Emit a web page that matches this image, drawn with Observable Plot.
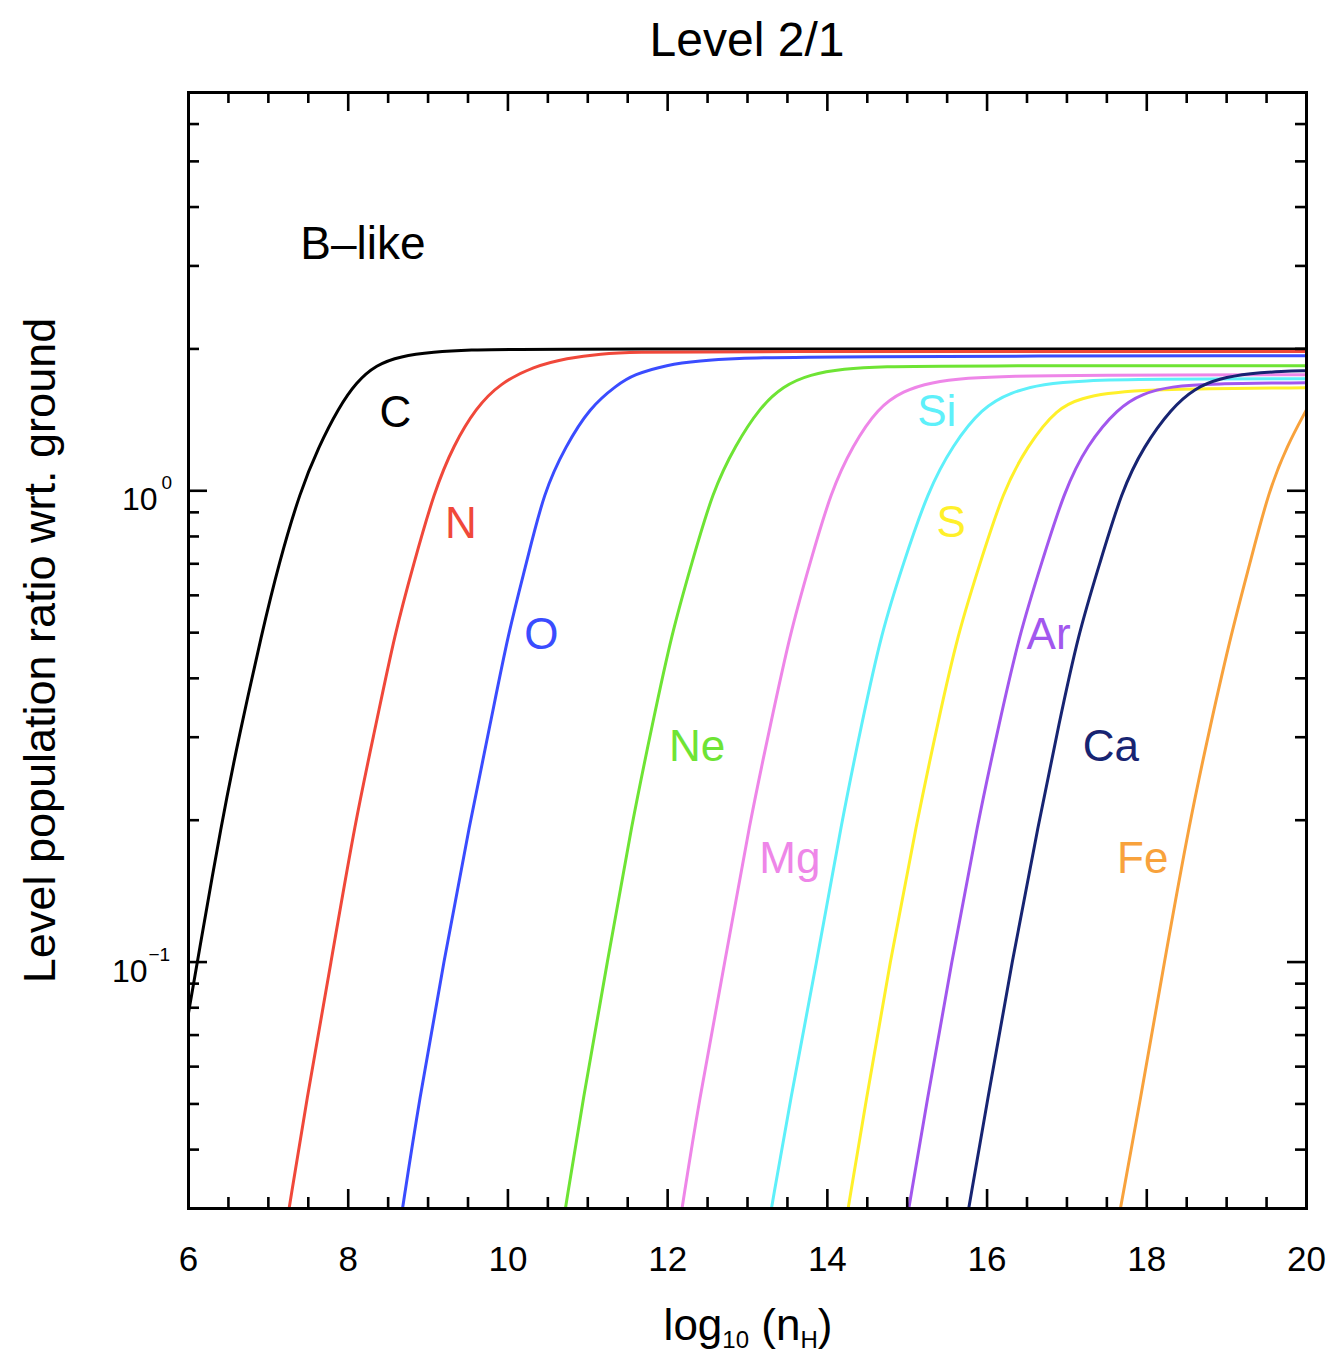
<!DOCTYPE html>
<html>
<head>
<meta charset="utf-8">
<script src="https://cdn.jsdelivr.net/npm/d3@7"></script>
<script src="https://cdn.jsdelivr.net/npm/@observablehq/plot@0.6"></script>
<style>
  html, body { margin: 0; padding: 0; background: #fff; }
  body { width: 1331px; height: 1357px; position: relative; overflow: hidden;
         font-family: "Liberation Sans", Arial, Helvetica, sans-serif; color: #000; }
  #title { position: absolute; left: 747px; top: 16px; transform: translateX(-50%);
           font-size: 48px; line-height: 1; white-space: nowrap; }
  #chart { position: absolute; left: 0; top: 80px; }
  #xtitle { position: absolute; left: 748px; top: 1303px; transform: translateX(-50%);
            font-size: 44px; line-height: 1; white-space: nowrap; }
  #xtitle sub { font-size: 24px; line-height: 0; vertical-align: -0.35em; }
</style>
</head>
<body>
<div id="title">Level 2/1</div>
<div id="chart"></div>
<div id="xtitle">log<sub>10</sub> (n<sub>H</sub>)</div>
<script>
// ---- data ----
const elements = ["C", "N", "O", "Ne", "Mg", "Si", "S", "Ar", "Ca", "Fe"];
const colors = ["#000000", "#f0483a", "#3a4cff", "#6ee434", "#ee86e8", "#5ef0fa", "#fff02a", "#a257ee", "#172472", "#f8a23c"];

const curveC  = [[6.0,0.078],[6.11,0.1],[6.42,0.2],[6.63,0.3],[6.92,0.5],[7.13,0.7],[7.40,1.0],[7.63,1.24],[7.88,1.5],[8.1,1.7],[8.35,1.85],[8.65,1.93],[9.07,1.97],[9.5,1.99],[10.2,2.0],[20,2.0]];
const curveN  = [[7.26,0.03],[7.47,0.05],[7.786,0.1],[8.09,0.2],[8.35,0.32],[8.586,0.5],[8.82,0.7],[9.08,1.0],[9.32,1.25],[9.60,1.5],[9.9,1.69],[10.32,1.836],[10.74,1.913],[11.16,1.954],[11.6,1.968],[12.5,1.975],[20,1.976]];
const curveO  = [[8.68,0.03],[8.881,0.05],[9.196,0.1],[9.529,0.2],[9.78,0.32],[10.005,0.5],[10.23,0.7],[10.454,1.0],[10.72,1.24],[11.02,1.5],[11.37,1.679],[11.57,1.763],[11.99,1.852],[12.41,1.888],[12.83,1.909],[13.66,1.928],[20,1.935]];
const curveNe = [[10.72,0.03],[10.93,0.05],[11.245,0.1],[11.559,0.2],[11.81,0.32],[12.053,0.5],[12.30,0.7],[12.565,1.0],[12.85,1.25],[13.15,1.5],[13.45,1.67],[13.78,1.765],[14.2,1.815],[14.7,1.835],[15.5,1.842],[20,1.842]];
const curveMg = [[12.18,0.03],[12.385,0.05],[12.718,0.1],[13.032,0.2],[13.29,0.32],[13.535,0.5],[13.78,0.7],[14.047,1.0],[14.32,1.25],[14.632,1.5],[14.95,1.63],[15.3,1.7],[15.75,1.735],[16.3,1.752],[17.2,1.76],[20,1.763]];
const curveSi = [[13.30,0.03],[13.526,0.05],[13.868,0.1],[14.182,0.2],[14.43,0.32],[14.676,0.5],[14.95,0.7],[15.26,1.0],[15.57,1.25],[15.934,1.5],[16.3,1.62],[16.7,1.685],[17.2,1.713],[18.0,1.725],[20,1.729]];
const curveS  = [[14.26,0.03],[14.478,0.05],[14.783,0.1],[15.125,0.2],[15.38,0.32],[15.637,0.5],[15.91,0.7],[16.203,1.0],[16.5,1.242],[16.877,1.5],[17.2,1.575],[17.5,1.61],[17.9,1.635],[18.7,1.648],[20,1.654]];
const curveAr = [[15.02,0.03],[15.241,0.05],[15.556,0.1],[15.889,0.2],[16.15,0.32],[16.41,0.5],[16.68,0.7],[16.967,1.0],[17.25,1.25],[17.64,1.5],[17.95,1.61],[18.3,1.665],[18.8,1.688],[20,1.695]];
const curveCa = [[15.77,0.03],[15.997,0.05],[16.311,0.1],[16.653,0.2],[16.90,0.32],[17.146,0.5],[17.41,0.7],[17.686,1.0],[17.96,1.242],[18.314,1.5],[18.6,1.65],[18.9,1.73],[19.3,1.776],[19.7,1.792],[20,1.798]];
const curveFe = [[17.67,0.03],[17.91,0.05],[18.22,0.1],[18.54,0.2],[18.80,0.32],[19.06,0.5],[19.29,0.7],[19.527,1.0],[19.76,1.25],[20,1.486]];
const curves = [curveC, curveN, curveO, curveNe, curveMg, curveSi, curveS, curveAr, curveCa, curveFe];

const labelX = [8.59, 9.41, 10.42, 12.37, 13.53, 15.37, 15.55, 16.77, 17.55, 17.95];
const labelY = [1.46, 0.85, 0.494, 0.286, 0.1655, 1.47, 0.855, 0.494, 0.286, 0.1655];

const xTicks = [6, 8, 10, 12, 14, 16, 18, 20];
const xMinorTicks = [6.5,7,7.5,8.5,9,9.5,10.5,11,11.5,12.5,13,13.5,14.5,15,15.5,16.5,17,17.5,18.5,19,19.5];
const yMajorTicks = [0.1, 1];
const yMinorTicks = [0.04,0.05,0.06,0.07,0.08,0.09,0.2,0.3,0.4,0.5,0.6,0.7,0.8,0.9,2,3,4,5,6];
const yTickExponents = ["\u22121", "0"];

const panelText = "B\u2013like";
const yTitle = "Level population ratio wrt. ground";

// ---- build tables ----
const labels = elements.map((el, i) => ({el, color: colors[i], x: labelX[i], y: labelY[i]}));

const W = 1331, H = 1210, mT = 12, mB = 82, mL = 188, mR = 25;
const FW = W - mL - mR, FH = H - mT - mB;
const font = "'Liberation Sans', Arial, Helvetica, sans-serif";
const majorLen = 19, minorLen = 11, tickW = 2.6;

const xMajorInner = xTicks.filter(d => d > 6 && d < 20);

const marks = [
  // curves
  ...curves.map((pts, i) => Plot.line(pts, {x: d => d[0], y: d => d[1], stroke: colors[i], strokeWidth: 3, curve: "basis", clip: true})),
  // ticks bottom / top
  Plot.ruleX(xMajorInner, {x: d => d, insetTop: FH - majorLen, strokeWidth: tickW}),
  Plot.ruleX(xMajorInner, {x: d => d, insetBottom: FH - majorLen, strokeWidth: tickW}),
  Plot.ruleX(xMinorTicks, {x: d => d, insetTop: FH - minorLen, strokeWidth: tickW}),
  Plot.ruleX(xMinorTicks, {x: d => d, insetBottom: FH - minorLen, strokeWidth: tickW}),
  // ticks left / right
  Plot.ruleY(yMajorTicks, {y: d => d, insetRight: FW - majorLen, strokeWidth: tickW}),
  Plot.ruleY(yMajorTicks, {y: d => d, insetLeft: FW - majorLen, strokeWidth: tickW}),
  Plot.ruleY(yMinorTicks, {y: d => d, insetRight: FW - minorLen, strokeWidth: tickW}),
  Plot.ruleY(yMinorTicks, {y: d => d, insetLeft: FW - minorLen, strokeWidth: tickW}),
  Plot.frame({stroke: "#000", strokeWidth: 3}),
  // x tick labels
  Plot.text(xTicks, {x: d => d, frameAnchor: "bottom", lineAnchor: "top", textAnchor: "middle", dy: 38, text: d => String(d), fontSize: 35, fill: "#000"}),
  // y tick labels: mantissa "10" and exponent
  Plot.text([yMajorTicks[0]], {y: d => d, frameAnchor: "left", textAnchor: "end", dx: -41, dy: 10, text: () => "10", fontSize: 32, fill: "#000"}),
  Plot.text([yMajorTicks[1]], {y: d => d, frameAnchor: "left", textAnchor: "end", dx: -31, dy: 9, text: () => "10", fontSize: 32, fill: "#000"}),
  Plot.text([0], {y: () => yMajorTicks[0], frameAnchor: "left", textAnchor: "start", dx: -40, dy: -7, text: () => yTickExponents[0], fontSize: 19, fill: "#000"}),
  Plot.text([0], {y: () => yMajorTicks[1], frameAnchor: "left", textAnchor: "start", dx: -27, dy: -8, text: () => yTickExponents[1], fontSize: 19, fill: "#000"}),
  // y title
  Plot.text([yTitle], {frameAnchor: "left", textAnchor: "middle", lineAnchor: "middle", rotate: -90, dx: -148, text: d => d, fontSize: 45, fill: "#000"}),
  // panel text
  Plot.text([panelText], {x: () => 8.185, y: () => 3.33, text: d => d, fontSize: 46, fill: "#000"}),
  // element labels
  Plot.text(labels, {x: "x", y: "y", text: "el", fill: "color", fontSize: 44})
];

const chart = Plot.plot({
  width: W, height: H,
  marginTop: mT, marginBottom: mB, marginLeft: mL, marginRight: mR,
  style: {fontFamily: font, background: "white", overflow: "visible", color: "#000"},
  x: {domain: [6, 20], axis: null},
  y: {type: "log", domain: [0.03, 7], axis: null},
  color: {type: "identity"},
  marks
});
document.getElementById("chart").appendChild(chart);
</script>
</body>
</html>
